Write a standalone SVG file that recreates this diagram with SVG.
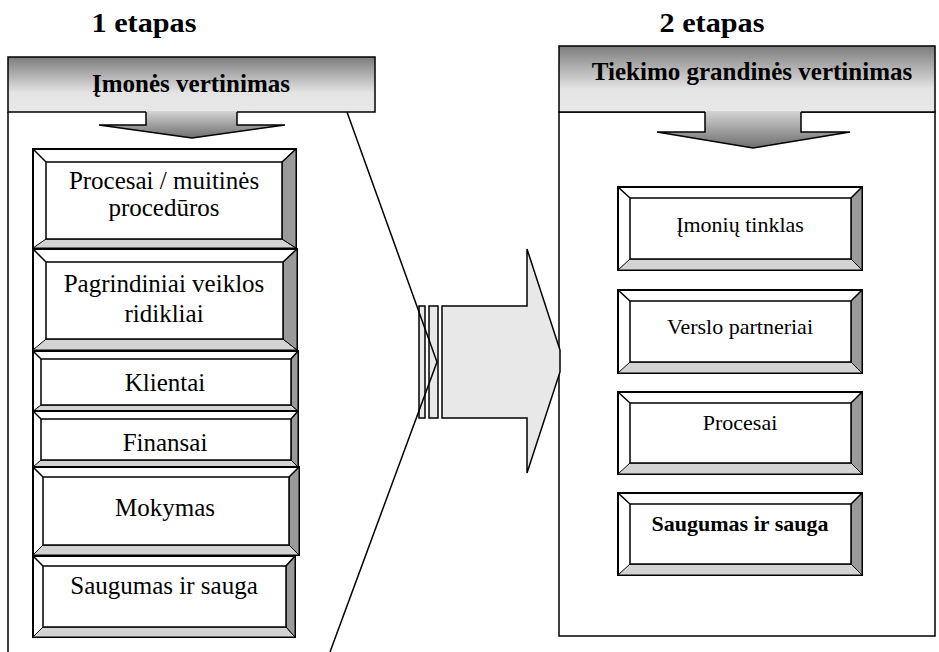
<svg xmlns="http://www.w3.org/2000/svg" width="939" height="652" viewBox="0 0 939 652">
  <defs>
    <linearGradient id="hdrGrad" x1="0" y1="0" x2="0" y2="1">
      <stop offset="0" stop-color="#7c7c7c"/>
      <stop offset="0.65" stop-color="#e4e4e4"/>
      <stop offset="1" stop-color="#e8e8e8"/>
    </linearGradient>
    <linearGradient id="downGrad" x1="0" y1="0" x2="0" y2="1">
      <stop offset="0" stop-color="#d4d4d4"/>
      <stop offset="1" stop-color="#6e6e6e"/>
    </linearGradient>
    <style>
      .ttl { font-family: "Liberation Serif", "Times New Roman", serif; font-weight: bold; font-size: 28px; fill: #000; text-anchor: middle; }
      .hdr { font-family: "Liberation Serif", "Times New Roman", serif; font-weight: bold; font-size: 25px; fill: #000; text-anchor: middle; }
      .lbl { font-family: "Liberation Serif", "Times New Roman", serif; font-size: 25px; fill: #000; text-anchor: middle; }
      .lblb { font-family: "Liberation Serif", "Times New Roman", serif; font-size: 22px; font-weight: bold; fill: #000; text-anchor: middle; }
      .lblr { font-family: "Liberation Serif", "Times New Roman", serif; font-size: 22px; fill: #000; text-anchor: middle; }
      .ln { fill: none; stroke: #000; stroke-width: 1.5; }
      .outer { fill: #fff; stroke: #000; stroke-width: 2; }
      .inner { fill: #fff; stroke: #000; stroke-width: 1.5; }
      .bot { fill: #d3d3d3; stroke: #000; stroke-width: 1; }
      .rgt { fill: #9a9a9a; stroke: #000; stroke-width: 1; }
      .hdrbox { fill: url(#hdrGrad); stroke: #000; stroke-width: 1.5; }
      .down { fill: url(#downGrad); stroke: none; }
      .big { fill: #e8e8e8; stroke: #000; stroke-width: 1.5; stroke-linejoin: miter; }
    </style>
  </defs>

  <rect width="939" height="652" fill="#fff"/>

  <!-- stage titles -->
  <text class="ttl" x="144" y="32" textLength="105" lengthAdjust="spacingAndGlyphs">1 etapas</text>
  <text class="ttl" x="712" y="32" textLength="105" lengthAdjust="spacingAndGlyphs">2 etapas</text>

  <!-- stage 1 panel -->
  <g id="stage1">
    <rect class="hdrbox" x="8" y="57" width="367" height="55"/>
    <text class="hdr" x="191" y="92">Įmonės vertinimas</text>
    <polygon class="down" points="146,111 237,111 237,125 285,125 192,138 99,125 146,125"/>
    <polyline class="ln" points="146,112 146,125 99,125 192,138 285,125 237,125 237,112"/>
  </g>

  <!-- stage 2 panel -->
  <g id="stage2">
    <rect class="ln" x="559" y="112" width="376" height="524"/>
    <rect class="hdrbox" x="559" y="46" width="376" height="66"/>
    <text class="hdr" x="752" y="80">Tiekimo grandinės vertinimas</text>
    <polygon class="down" points="705,111 801,111 801,132 850,132 753,148 657,132 705,132"/>
    <polyline class="ln" points="705,112 705,132 657,132 753,148 850,132 801,132 801,112"/>
  </g>

  <!-- transition arrow and stage 1 outline -->
  <g id="connectors">
    <rect class="big" x="419" y="306" width="6" height="112"/>
    <rect class="big" x="429" y="306" width="9" height="112"/>
    <polygon class="big" points="442,306 527,306 527,249 560,350 560,372 527,473 527,418 442,418"/>
    <polyline class="ln" points="8,112 8,652"/>
    <polyline class="ln" points="347,112 437,362 330,652"/>
  </g>

  <!-- stage 1 items -->
  <g id="l-procesai">
    <rect class="outer" x="33" y="149" width="263" height="99"/>
    <polygon class="bot" points="33,248 296,248 282,239 46,239"/>
    <polygon class="rgt" points="296,149 296,248 282,239 282,162"/>
    <rect class="inner" x="46" y="162" width="236" height="77"/>
    <path class="ln" d="M33,149 L46,162 M296,149 L282,162"/>
    <text class="lbl" x="164" y="189">Procesai / muitinės</text>
    <text class="lbl" x="164" y="216">procedūros</text>
  </g>
  <g id="l-ridikliai">
    <rect class="outer" x="33" y="249" width="264" height="101"/>
    <polygon class="bot" points="33,350 297,350 283,339 46,339"/>
    <polygon class="rgt" points="297,249 297,350 283,339 283,262"/>
    <rect class="inner" x="46" y="262" width="237" height="77"/>
    <path class="ln" d="M33,249 L46,262 M297,249 L283,262"/>
    <text class="lbl" x="164" y="292">Pagrindiniai veiklos</text>
    <text class="lbl" x="164" y="322">ridikliai</text>
  </g>
  <g id="l-klientai">
    <rect class="outer" x="33" y="351" width="265" height="60"/>
    <polygon class="bot" points="33,411 298,411 291,405 41,405"/>
    <polygon class="rgt" points="298,351 298,411 291,405 291,359"/>
    <rect class="inner" x="41" y="359" width="250" height="46"/>
    <path class="ln" d="M33,351 L41,359 M298,351 L291,359"/>
    <text class="lbl" x="165" y="391">Klientai</text>
  </g>
  <g id="l-finansai">
    <rect class="outer" x="33" y="411" width="265" height="56"/>
    <polygon class="bot" points="33,467 298,467 291,460 41,460"/>
    <polygon class="rgt" points="298,411 298,467 291,460 291,419"/>
    <rect class="inner" x="41" y="419" width="250" height="41"/>
    <path class="ln" d="M33,411 L41,419 M298,411 L291,419"/>
    <text class="lbl" x="165" y="451">Finansai</text>
  </g>
  <g id="l-mokymas">
    <rect class="outer" x="33" y="467" width="266" height="88"/>
    <polygon class="bot" points="33,555 299,555 289,545 43,545"/>
    <polygon class="rgt" points="299,467 299,555 289,545 289,477"/>
    <rect class="inner" x="43" y="477" width="246" height="68"/>
    <path class="ln" d="M33,467 L43,477 M299,467 L289,477"/>
    <text class="lbl" x="165" y="516">Mokymas</text>
  </g>
  <g id="l-saugumas">
    <rect class="outer" x="33" y="556" width="262" height="81"/>
    <polygon class="bot" points="33,637 295,637 286,627 43,627"/>
    <polygon class="rgt" points="295,556 295,637 286,627 286,566"/>
    <rect class="inner" x="43" y="566" width="243" height="61"/>
    <path class="ln" d="M33,556 L43,566 M295,556 L286,566"/>
    <text class="lbl" x="164" y="594">Saugumas ir sauga</text>
  </g>

  <!-- stage 2 items -->
  <g id="r-tinklas">
    <rect class="outer" x="618" y="187" width="244" height="83"/>
    <polygon class="bot" points="618,270 862,270 851,259 630,259"/>
    <polygon class="rgt" points="862,187 862,270 851,259 851,198"/>
    <rect class="inner" x="630" y="198" width="221" height="61"/>
    <path class="ln" d="M618,187 L630,198 M862,187 L851,198"/>
    <text class="lblr" x="740" y="232">Įmonių tinklas</text>
  </g>
  <g id="r-partneriai">
    <rect class="outer" x="618" y="290" width="244" height="83"/>
    <polygon class="bot" points="618,373 862,373 851,362 630,362"/>
    <polygon class="rgt" points="862,290 862,373 851,362 851,301"/>
    <rect class="inner" x="630" y="301" width="221" height="61"/>
    <path class="ln" d="M618,290 L630,301 M862,290 L851,301"/>
    <text class="lblr" x="740" y="334">Verslo partneriai</text>
  </g>
  <g id="r-procesai">
    <rect class="outer" x="618" y="392" width="244" height="82"/>
    <polygon class="bot" points="618,474 862,474 851,463 630,463"/>
    <polygon class="rgt" points="862,392 862,474 851,463 851,403"/>
    <rect class="inner" x="630" y="403" width="221" height="60"/>
    <path class="ln" d="M618,392 L630,403 M862,392 L851,403"/>
    <text class="lblr" x="740" y="430">Procesai</text>
  </g>
  <g id="r-saugumas">
    <rect class="outer" x="618" y="493" width="244" height="82"/>
    <polygon class="bot" points="618,575 862,575 851,564 630,564"/>
    <polygon class="rgt" points="862,493 862,575 851,564 851,504"/>
    <rect class="inner" x="630" y="504" width="221" height="60"/>
    <path class="ln" d="M618,493 L630,504 M862,493 L851,504"/>
    <text class="lblb" x="740" y="531">Saugumas ir sauga</text>
  </g>
</svg>
